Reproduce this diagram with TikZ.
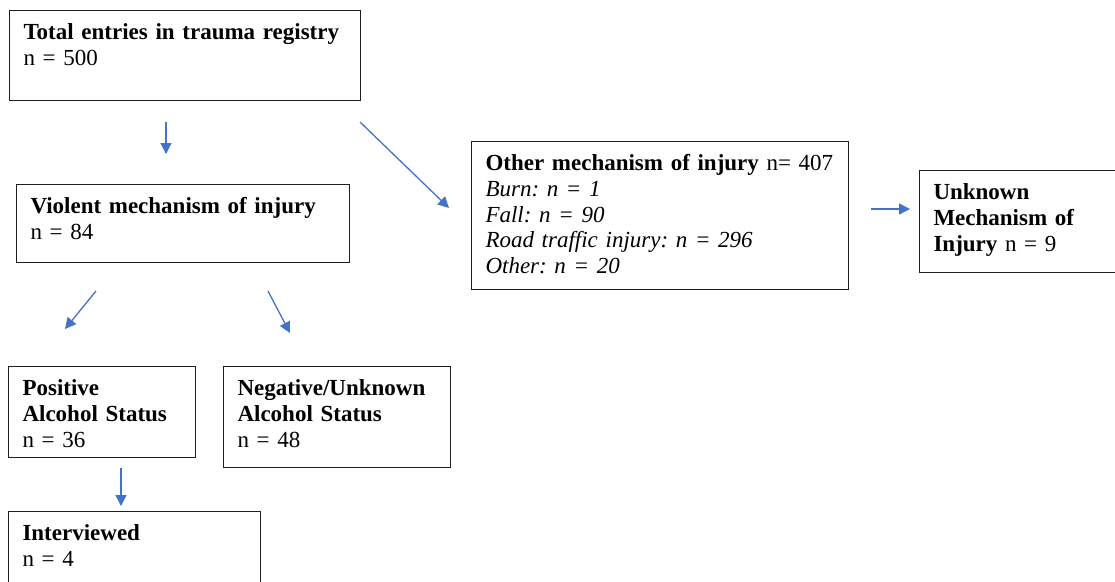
\documentclass[tikz,border=0pt]{standalone}
\usepackage{fontspec}
\setmainfont{Liberation Serif}
\usepackage{xcolor}
\usetikzlibrary{arrows.meta, calc}
\definecolor{flowblue}{RGB}{68,114,196}
\definecolor{flowline}{RGB}{30,30,30}
\tikzset{
  flowbox/.style={
    rectangle, draw=flowline, line width=1pt, anchor=north west,
    align=left, inner xsep=14pt, inner ysep=0pt, text height=29pt,
    font=\fontsize{23}{25.8}\selectfont\frenchspacing
  },
  flowarrow/.style={-{Triangle[length=11pt,width=11pt]}, line width=1.3pt, draw=flowblue}
}
\begin{document}
\begin{tikzpicture}[x=1pt, y=-1pt]
\clip (0,0) rectangle (1115,581);

% -------- boxes --------
\node[flowbox, text width=323pt, text depth=61pt] (total) at (9,10) {\textbf{Total entries in trauma registry}\\ n = 500};
\node[flowbox, text width=305pt, text depth=49pt] (violent) at (16,184) {\textbf{Violent mechanism of injury}\\ n = 84};
\node[flowbox, text width=349pt, text depth=119pt] (other) at (471,141) {\textbf{Other mechanism of injury} n= 407\\ \textit{Burn: n = 1}\\ \textit{Fall: n = 90}\\ \textit{Road traffic injury: n = 296}\\ \textit{Other: n = 20}};
\node[flowbox, text width=172pt, text depth=73pt] (unknown) at (919,170) {\textbf{Unknown}\\ \textbf{Mechanism of}\\ \textbf{Injury} n = 9};
\node[flowbox, text width=159pt, text depth=62pt] (positive) at (8,366) {\textbf{Positive}\\ \textbf{Alcohol Status}\\ n = 36};
\node[flowbox, text width=199pt, text depth=72pt] (negative) at (223,366) {\textbf{Negative/Unknown}\\ \textbf{Alcohol Status}\\ n = 48};
\node[flowbox, text width=224pt, text depth=61pt] (interviewed) at (8,511) {\textbf{Interviewed}\\ n = 4};

% -------- arrows --------
\draw[flowarrow] ($(total.south west)+(157,21)$) -- ($(violent.north west)+(150,-30)$);
\draw[flowarrow] ($(total.south east)+(-1,21)$) -- ($(other.north west)+(-22,67)$);
\draw[flowarrow] ($(other.north east)+(22,68)$) -- ($(unknown.north west)+(-9,39)$);
\draw[flowarrow] ($(violent.south west)+(80,28)$) -- ($(positive.north west)+(57,-37)$);
\draw[flowarrow] ($(violent.south west)+(252,28)$) -- ($(negative.north west)+(67,-33)$);
\draw[flowarrow] ($(positive.south west)+(113,10)$) -- ($(interviewed.north west)+(113,-5)$);

\end{tikzpicture}
\end{document}
